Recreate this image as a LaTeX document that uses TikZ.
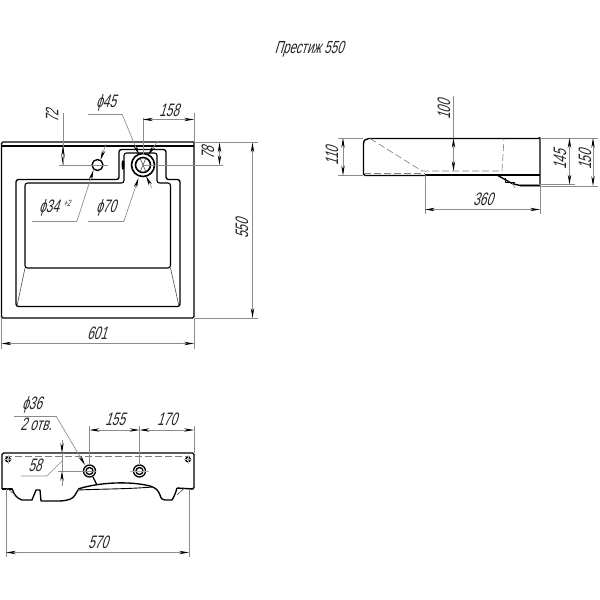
\documentclass[tikz,border=0pt]{standalone}
\usepackage{fontspec}
\setmainfont[FakeSlant=0.3,FakeStretch=0.66]{Liberation Sans}
\usetikzlibrary{arrows.meta}
\tikzset{
  x=1pt,y=-1pt,
  thick line/.style={line width=1.35pt,draw=black,line join=round},
  thin line/.style={line width=0.6pt,draw=black!70},
  dim/.style={line width=0.65pt,draw=black!45},
  hidden/.style={line width=0.6pt,draw=black!50,dash pattern=on 7pt off 3pt},
  tip/.style={-{Stealth[length=10pt,width=3.4pt,black]}},
  tips/.style={{Stealth[length=10pt,width=3.4pt,black]}-{Stealth[length=10pt,width=3.4pt,black]}},
  lab/.style={font=\fontsize{18}{18}\selectfont,text=black!85,inner sep=0pt},
  vlab/.style={lab,rotate=90},
}
\begin{document}
\begin{tikzpicture}
\useasboundingbox (0,0) rectangle (600,600);
\fill[white] (0,0) rectangle (600,600);

% title
\node[lab,font=\fontsize{17.5}{17.5}\selectfont] (title) at (309,49) {Престиж 550};

% ---------- plan view
\draw[thick line] (1.5,142) -- (194,142) -- (194,316.5) [rounded corners=1.5pt] -- (194,318) -- (1.5,318) -- cycle;
\draw[thick line] (1.5,146) -- (194,146);
\draw[thick line,rounded corners=2.5pt] (16,306.5) -- (16,179.5) -- (119,179.5) -- (119,149.5) -- (166,149.5) -- (166,179.5) -- (180,179.5) -- (180,306.5) -- cycle;
\draw[thick line,rounded corners=2.5pt,line width=1.1pt] (25,268) -- (25,183) -- (124,183) -- (124,153) -- (157,153) -- (157,183) -- (170.5,183) -- (170.5,268) -- cycle;
\draw[thin line] (25,268) -- (17,306);
\draw[thin line] (170.5,268) -- (179,306);
\draw[thick line] (97.5,165) circle (5.5);
\draw[thick line,line width=1.6pt] (143,165) circle (11.5);
\draw[thick line,line width=1.6pt] (143,165) circle (7.5);
\draw[thin line] (140,158) -- (146,172) (146,158) -- (140,172);

% dims plan
\draw[dim] (59,165) -- (108,165);
\draw[dim] (143,154) -- (143,118);
\draw[dim] (143,165) -- (223,165);
\draw[dim] (194,142) -- (194,113);
\draw[dim] (194,142) -- (258,142);
\draw[dim] (194,318) -- (258,318);
\draw[dim] (1.5,318) -- (1.5,349);
\draw[dim] (194,318) -- (194,349);
\draw[dim] (63,113) -- (63,165);
\draw[tip,dim] (63,155) -- (63,165);
\draw[tip,dim] (63,165) -- (63,146);
\draw[tips,dim] (143,119.5) -- (194,119.5);
\draw[tips,dim] (219.5,142.5) -- (219.5,165);
\draw[tips,dim] (252.5,142.5) -- (252.5,318);
\draw[tips,dim] (1.5,343.5) -- (194,343.5);
\draw[dim] (88,114) -- (122,114);
\draw[tip,dim] (122,114) -- (139,155);
\draw[tip,dim] (158,141) -- (148,155);
\draw[tip,dim] (152,188) -- (146,176);
\draw[dim] (88,221) -- (124,221);
\draw[tip,dim] (124,221) -- (138.5,178);
\draw[dim] (32,221) -- (77,221);
\draw[tip,dim] (77,221) -- (93.5,170);
\draw[tip,dim] (106,144) -- (100.5,160);
\fill[black] (123,165) ellipse (1.5 and 5);

\node[lab] (d45) at (106,103) {ϕ45};
\node[lab] (d158) at (169,110) {158};
\node[vlab] (d72) at (52,116) {72};
\node[vlab] (d78) at (208,153) {78};
\node[vlab] (d550) at (242,229) {550};
\node[lab] (d601) at (97,333) {601};
\node[lab] (d34) at (49,208) {ϕ34};
\node[lab,font=\fontsize{9}{9}\selectfont] (d34b) at (67,203) {+2};
\node[lab] (d70) at (106,208) {ϕ70};

% ---------- side view
\draw[thick line] (425,175.5) -- (365,175.5) -- (363.5,174) -- (363.5,144) .. controls (363.5,140) and (366,138.5) .. (369,138.5) -- (538,138.5) -- (540,137.5);
\draw[thick line] (540,137.5) -- (540,185.5) -- (520,185.5) -- (512,183.5) -- (497,175) ;
\draw[thick line] (425,175) -- (540,175);
\draw[thick line,line width=0.8pt] (505,178) -- (505,182) -- (515,182);
\draw[dim] (512,183) -- (515,188);
\draw[hidden] (370,138.5) -- (422,171);
\draw[hidden] (422,171) -- (502,171) -- (504,138.5);
\draw[hidden] (364,173.5) -- (425,173.5);

\draw[dim] (338,138) -- (363,138);
\draw[dim] (338,175.5) -- (363,175.5);
\draw[dim] (540,138) -- (598,138);
\draw[dim] (520,184.5) -- (575,184.5);
\draw[dim] (520,186) -- (598,186);
\draw[dim] (425,175) -- (425,214);
\draw[dim] (540,185) -- (540,214);
\draw[dim] (453.5,96) -- (453.5,138);
\draw[tips,dim] (453.5,138) -- (453.5,171);
\draw[tips,dim] (343,138) -- (343,175.5);
\draw[tips,dim] (569.5,138) -- (569.5,184.5);
\draw[tips,dim] (593,138) -- (593,186);
\draw[tips,dim] (425,209.5) -- (540,209.5);

\node[vlab] (d100) at (444,110) {100};
\node[vlab] (d110) at (332,156) {110};
\node[vlab] (d145) at (560,160) {145};
\node[vlab] (d150) at (585,160) {150};
\node[lab] (d360) at (483,199) {360};

% ---------- rear view
\draw[thick line,rounded corners=1.5pt] (2,489) -- (2,453) -- (194,453) -- (194,489) -- (177,488);
\draw[hidden] (5,456) -- (190,456);
\draw[thick line,rounded corners=1pt] (2,489) -- (12,489);
\draw[thick line] (12,488.5) .. controls (14,494) and (16,498) .. (22,500) -- (32,500) -- (36,490) -- (40,490) -- (41,501) -- (60,501) .. controls (68,500.5) and (73,499) .. (75,495) -- (78,490);
\draw[thick line] (78,489) .. controls (100,482) and (130,481) .. (150,486) .. controls (156,488) and (158,490) .. (160,495) .. controls (161,499) and (163,500) .. (165,500) -- (172,500) .. controls (174,497) and (176,492) .. (177,488);
\draw[thick line,line width=0.9pt] (78,490) .. controls (100,489) and (130,489) .. (152,487);
\draw[thin line] (177,495) -- (184,488.5);
\draw[thin line] (7,488) -- (15,495);
\draw[thick line,line width=0.9pt] (185,488.5) -- (194,489);
\draw[thick line] (89.5,471) circle (6);
\draw[thick line] (89.5,471) circle (3.5);
\draw[thick line] (139.5,471) circle (6);
\draw[thick line] (139.5,471) circle (3.5);
\draw[thick line] (8,459.5) circle (2.3);
\draw[thick line] (188,459.5) circle (2.3);
\draw[thin line,draw=black!30] (4,459.5) -- (12,459.5) (8,455) -- (8,464);
\draw[thin line,draw=black!30] (184,459.5) -- (192,459.5) (188,455) -- (188,464);
\draw[thin line,draw=black!30] (130,471) -- (149,471);

\draw[dim] (89.5,426) -- (89.5,465);
\draw[dim] (139.5,426) -- (139.5,465);
\draw[dim] (194,426) -- (194,453);
\draw[dim] (6,489) -- (6,557);
\draw[dim] (189,489) -- (189,557);
\draw[dim] (58,471) -- (96,471);
\draw[tips,dim] (89.5,430) -- (139.5,430);
\draw[tips,dim] (139.5,430) -- (194,430);
\draw[tips,dim] (6,552.5) -- (189,552.5);
\draw[dim] (62,453) -- (62,471);
\draw[tip,dim] (62,440) -- (62,453);
\draw[tip,dim] (62,486) -- (62,471);
\draw[dim] (21,476) -- (47,476) -- (62,461);
\draw[dim] (14,416) -- (56,416);
\draw[tip,dim] (56,416) -- (85,465);
\draw[line width=1.3pt,black] (93,477) -- (97,485);

\node[lab] (d36) at (32,405) {ϕ36};
\node[lab] (holes) at (36,424) {2 отв.};
\node[lab] (d58) at (35,465) {58};
\node[lab] (d155) at (115,419) {155};
\node[lab] (d170) at (167,419) {170};
\node[lab] (d570) at (98,542) {570};
\end{tikzpicture}
\end{document}
